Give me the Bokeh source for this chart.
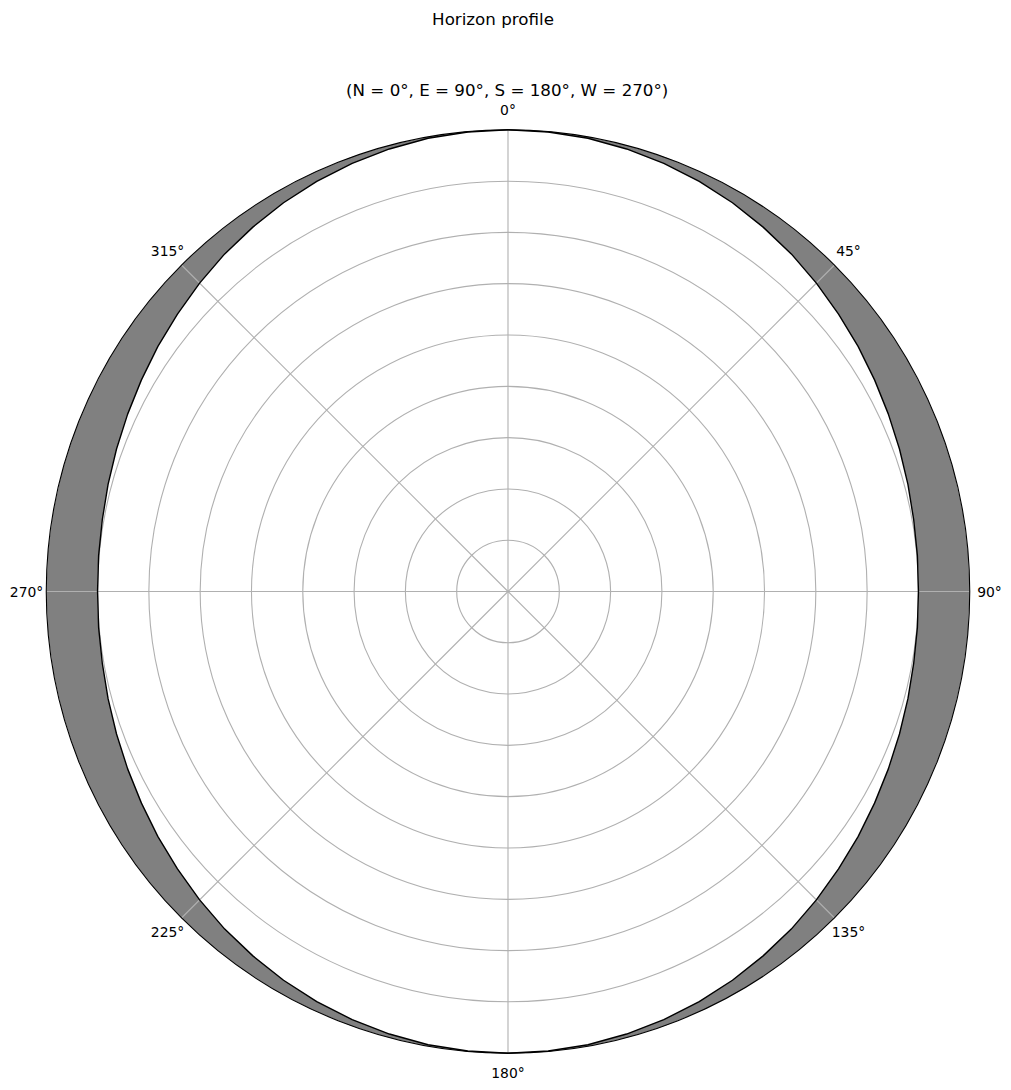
import numpy as np
from bokeh.plotting import figure
from bokeh.models import Range1d
from bokeh.core.properties import value
from bokeh.embed import file_html
from bokeh.resources import INLINE

# ---- data ----
AZIMUTH = list(range(0, 365, 5))  # degrees, N=0 clockwise
ELEVATION = [0.0, 0.1, 0.3, 0.7, 1.2, 1.8, 2.5, 3.3, 4.1, 5.0, 5.9, 6.7, 7.5, 8.2, 8.8, 9.3, 9.7, 9.9, 10.0,
             9.9, 9.7, 9.3, 8.8, 8.2, 7.5, 6.7, 5.9, 5.0, 4.1, 3.3, 2.5, 1.8, 1.2, 0.7, 0.3, 0.1, 0.0,
             0.1, 0.3, 0.7, 1.2, 1.8, 2.5, 3.3, 4.1, 5.0, 5.9, 6.7, 7.5, 8.2, 8.8, 9.3, 9.7, 9.9, 10.0,
             9.9, 9.7, 9.3, 8.8, 8.2, 7.5, 6.7, 5.9, 5.0, 4.1, 3.3, 2.5, 1.8, 1.2, 0.7, 0.3, 0.1, 0.0]
THETA_TICKS = [0, 45, 90, 135, 180, 225, 270, 315]
THETA_LABELS = ["0°", "45°", "90°", "135°", "180°", "225°", "270°", "315°"]
R_RINGS = [10, 20, 30, 40, 50, 60, 70, 80]
R_MAX = 90
SUPTITLE = "Horizon profile"
TITLE = "(N = 0°, E = 90°, S = 180°, W = 270°)"

# ---- layout ----
W, H = 1011, 1090
CX, CY = 507.5, 591.0      # pixel centre of polar axes
RPX = 461.75               # pixel radius of outer circle
S = RPX / R_MAX            # px per unit

def px(xp, yp):
    return (xp - CX) / S, (CY - yp) / S

p = figure(width=W, height=H, output_backend="svg", toolbar_location=None,
           x_range=Range1d(-CX / S, (W - CX) / S), y_range=Range1d(-(H - CY) / S, CY / S),
           min_border=0, background_fill_color="white", border_fill_color="white")
p.axis.visible = False
p.grid.visible = False
p.outline_line_color = None

def polar(az_deg, r):
    a = np.radians(np.asarray(az_deg, dtype=float))
    r = np.asarray(r, dtype=float)
    return r * np.sin(a), r * np.cos(a)

az = np.array(AZIMUTH, dtype=float)
el = np.array(ELEVATION, dtype=float)
r_prof = R_MAX - el
xp_, yp_ = polar(az, r_prof)
xo, yo = polar(az[::-1], np.full(len(az), R_MAX))

# gray region between horizon (elevation 0) and profile
p.patch(list(xp_) + list(xo), list(yp_) + list(yo), fill_color="#808080", line_color=None)

# grid
GRID = "#b0b0b0"
p.circle(x=[0] * len(R_RINGS), y=[0] * len(R_RINGS), radius=R_RINGS,
         fill_color=None, line_color=GRID, line_width=1.1)
for t in THETA_TICKS:
    gx, gy = polar([t, t], [0, R_MAX])
    p.line(list(gx), list(gy), line_color=GRID, line_width=1.1)

# profile line
p.line(list(xp_), list(yp_), line_color="black", line_width=1.4)

# spine
p.circle(x=[0], y=[0], radius=[R_MAX], fill_color=None, line_color="black", line_width=1.1)

# theta tick labels
r_lab = R_MAX + 19.7 / S
lx, ly = polar(THETA_TICKS, [r_lab] * len(THETA_TICKS))
p.text(x=list(lx), y=list(ly), text=THETA_LABELS, text_font=value("DejaVu Sans"),
       text_font_size="13.9px", text_align="center", text_baseline="middle", text_color="black")

# titles
sx, sy = px(492.5, 18)
p.text(x=[sx], y=[sy], text=[SUPTITLE], text_font=value("DejaVu Sans"), text_font_size="16.7px",
       text_align="center", text_baseline="middle", text_color="black")
tx, ty = px(506.7, 89)
p.text(x=[tx], y=[ty], text=[TITLE], text_font=value("DejaVu Sans"), text_font_size="16.7px",
       text_align="center", text_baseline="middle", text_color="black")

open("out.html", "w").write(file_html(p, INLINE))
